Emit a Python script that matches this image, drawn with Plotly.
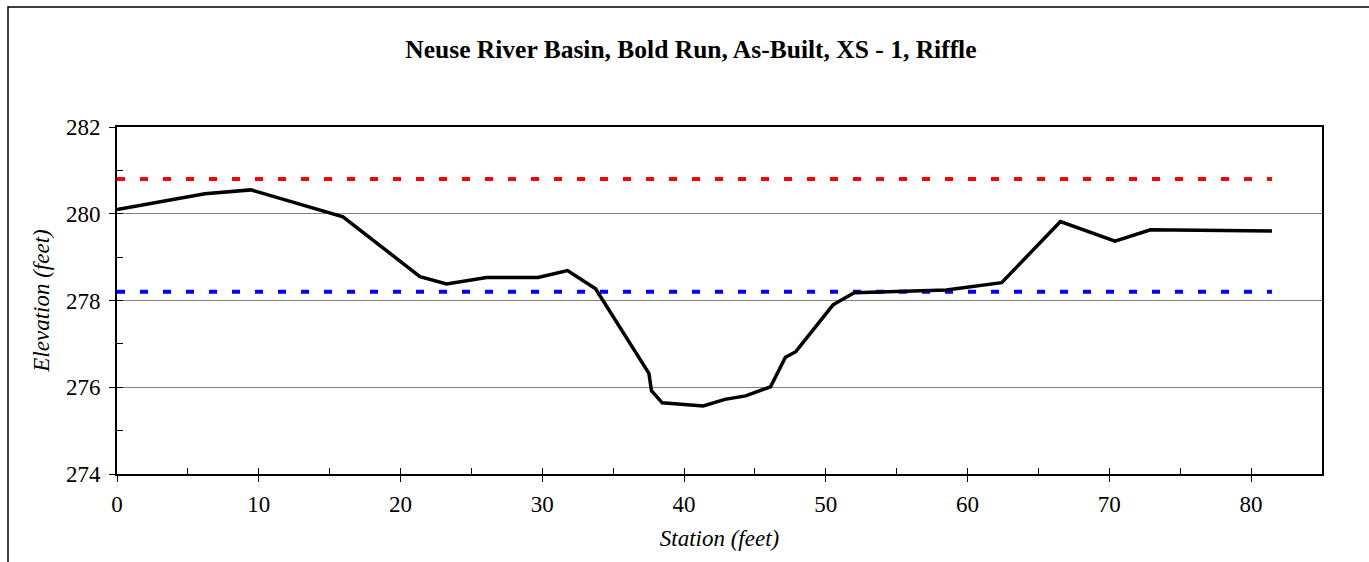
import plotly.graph_objects as go

# Surveyed cross-section: station (ft) vs. ground elevation (ft)
station = [0.0, 6.2, 9.45, 12.9, 15.94, 21.37, 23.25, 26.07, 29.7, 31.78, 33.76,
           37.52, 37.7, 38.46, 41.35, 42.88, 44.34, 46.1, 47.15, 47.88, 50.51,
           52.0, 58.5, 62.4, 66.55, 70.4, 72.9, 81.47]
elevation = [280.10, 280.46, 280.55, 280.21, 279.93, 278.55, 278.38, 278.53, 278.53,
             278.69, 278.27, 276.32, 275.92, 275.64, 275.57, 275.72, 275.80, 276.01,
             276.69, 276.82, 277.90, 278.18, 278.24, 278.41, 279.82, 279.37, 279.63,
             279.60]

# Reference water-surface elevations (ft)
floodprone_elev = 280.80
bankfull_elev = 278.20

x_range = [0, 85]
y_range = [274, 282]
x_ticks = [0, 10, 20, 30, 40, 50, 60, 70, 80]
y_ticks = [274, 276, 278, 280, 282]

FONT = "Liberation Serif, Times New Roman, serif"
span = [station[0], station[-1]]

fig = go.Figure()

fig.add_trace(go.Scatter(
    x=span, y=[floodprone_elev] * 2, mode="lines",
    line=dict(color="#ff0000", width=4, dash="8px,15px"),
    hoverinfo="skip", showlegend=False))
fig.add_trace(go.Scatter(
    x=span, y=[bankfull_elev] * 2, mode="lines",
    line=dict(color="#0000ff", width=4, dash="8px,15px"),
    hoverinfo="skip", showlegend=False))
fig.add_trace(go.Scatter(
    x=station, y=elevation, mode="lines",
    line=dict(color="#000000", width=3.5),
    showlegend=False))

# companion axes that carry the inward-pointing ticks
fig.add_trace(go.Scatter(x=[], y=[], xaxis="x2", yaxis="y2",
                         showlegend=False, hoverinfo="skip"))

fig.update_layout(
    width=1369, height=562,
    margin=dict(l=117, r=47, t=127, b=88),
    paper_bgcolor="white", plot_bgcolor="white",
    font=dict(family=FONT, color="#000000", size=23),
    title=dict(
        text="<b>Neuse River Basin, Bold Run, As-Built, XS - 1, Riffle</b>",
        font=dict(family=FONT, size=25.5, color="#000000"),
        x=0.5047, xref="container", xanchor="center",
        y=1 - 49 / 562, yref="container", yanchor="middle"),
    xaxis=dict(
        range=x_range, tickvals=x_ticks, ticks="outside", ticklen=6,
        tickwidth=1, tickcolor="#000000",
        showline=True, linecolor="#000000", linewidth=2, mirror=True,
        showgrid=False, zeroline=False,
        tickfont=dict(family=FONT, size=23),
        ticklabelstandoff=2,
        title=dict(text="<i>Station (feet)</i>", standoff=14,
                   font=dict(family=FONT, size=23))),
    yaxis=dict(
        range=y_range, tickvals=y_ticks, ticks="outside", ticklen=6,
        tickwidth=1, tickcolor="#000000",
        showline=True, linecolor="#000000", linewidth=2, mirror=True,
        showgrid=True, gridcolor="#808080", gridwidth=1, zeroline=False,
        tickfont=dict(family=FONT, size=23),
        ticklabelstandoff=4,
        title=dict(text="<i>Elevation (feet)</i>", standoff=10,
                   font=dict(family=FONT, size=23))),
    xaxis2=dict(
        range=x_range, overlaying="x", anchor="y", side="bottom",
        dtick=5, tick0=0, ticks="inside", ticklen=6, tickwidth=1,
        tickcolor="#000000", showticklabels=False, showgrid=False,
        showline=False, zeroline=False),
    yaxis2=dict(
        range=y_range, overlaying="y", anchor="x", side="left",
        dtick=1, tick0=274, ticks="inside", ticklen=6, tickwidth=1,
        tickcolor="#000000", showticklabels=False, showgrid=False,
        showline=False, zeroline=False),
    shapes=[dict(type="rect", xref="paper", yref="paper",
                 x0=(8 - 117) / 1205, x1=1.2, y0=-0.6, y1=(474 - 7) / 347,
                 line=dict(color="#000000", width=1.5), layer="below")],
)

fig.write_html("out.html")
